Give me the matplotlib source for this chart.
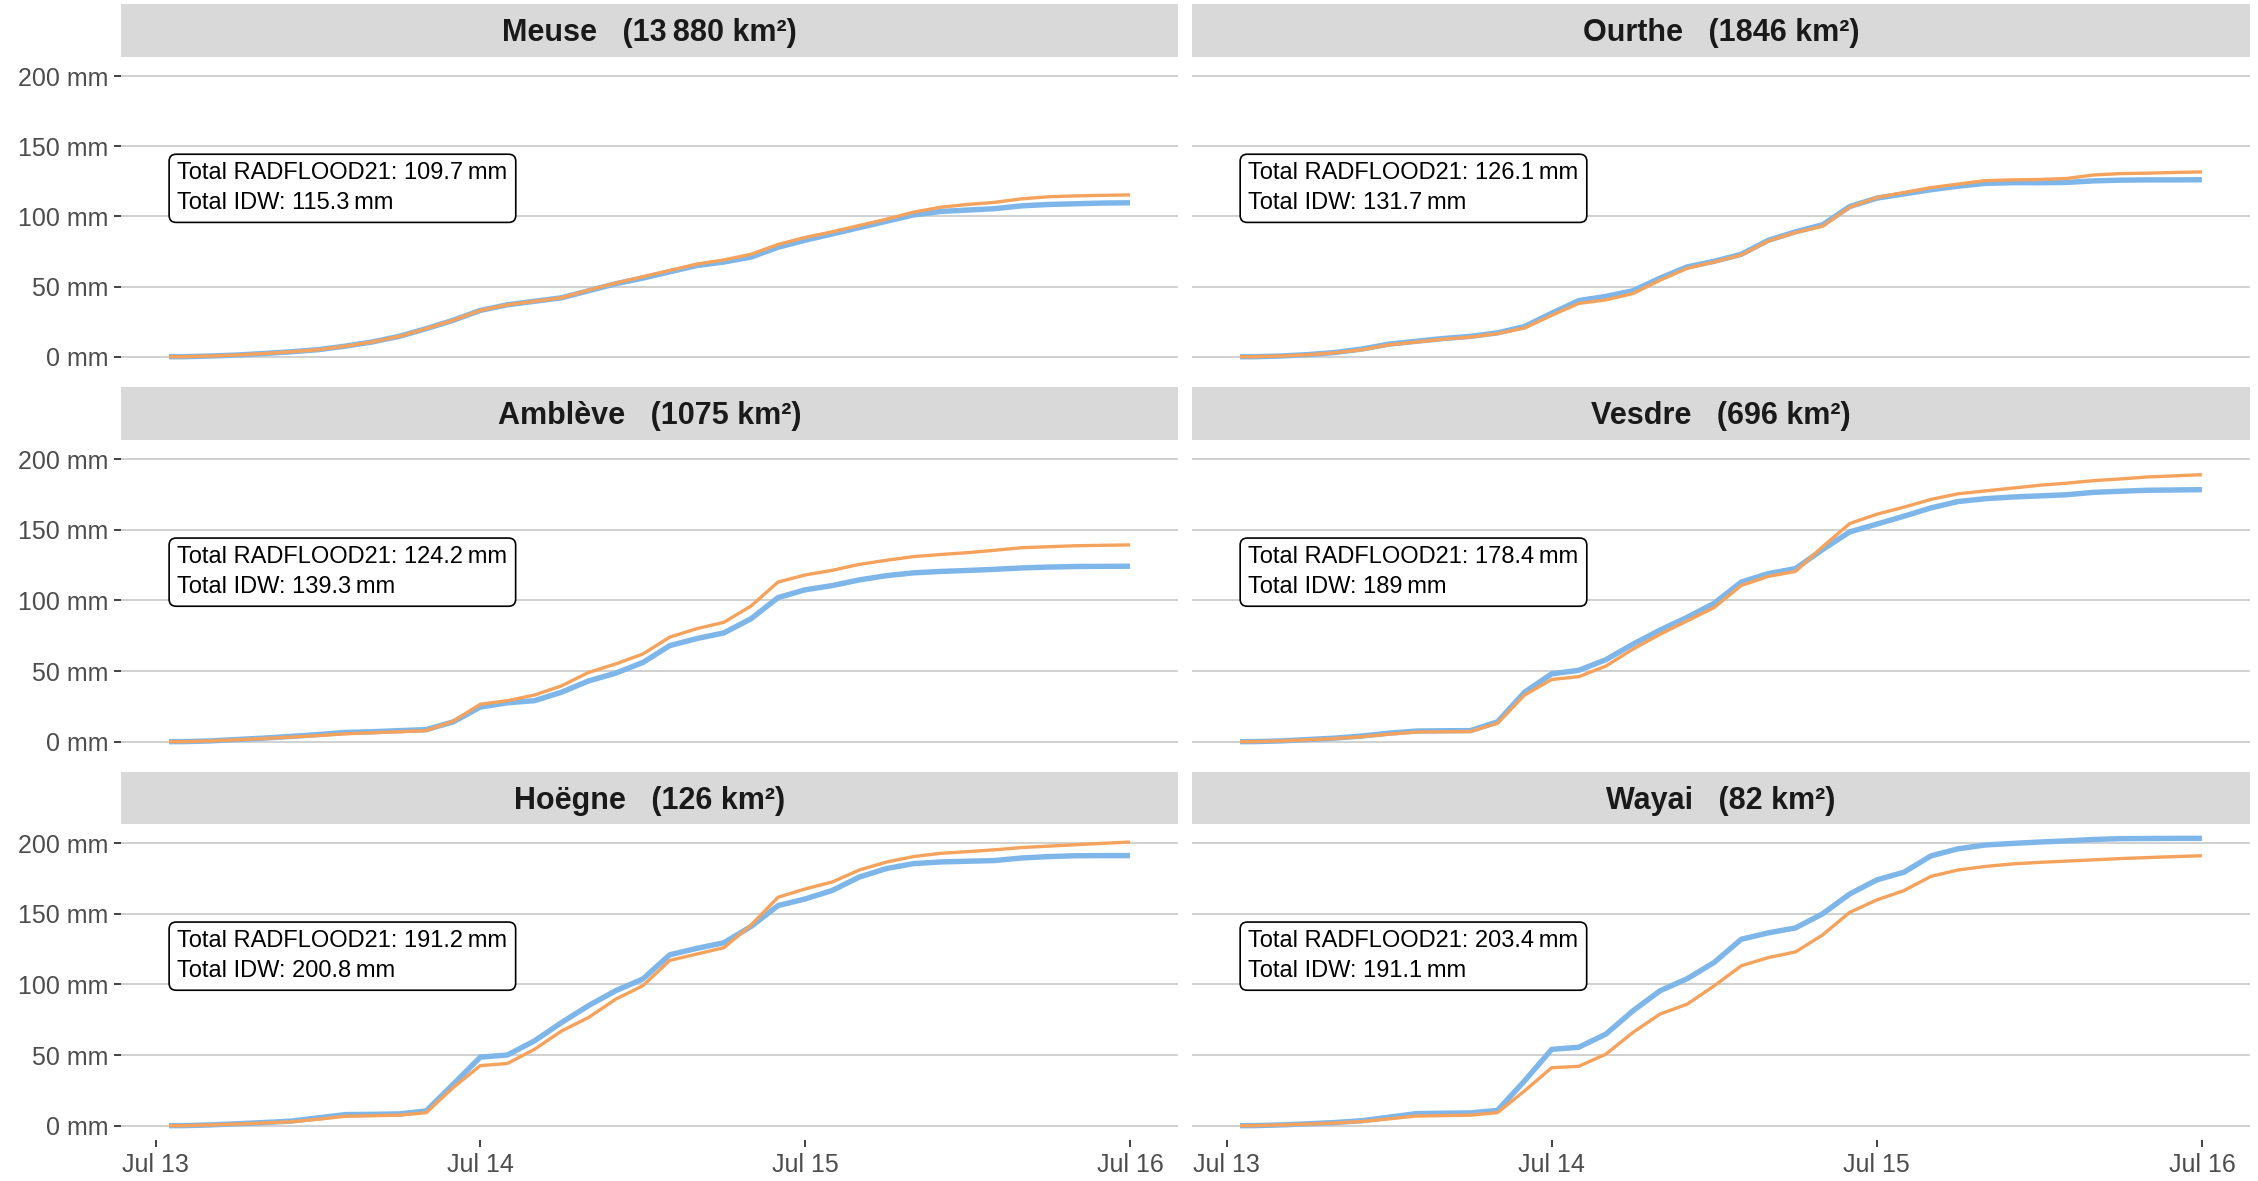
import matplotlib
matplotlib.use("Agg")
import matplotlib.pyplot as plt
import matplotlib.dates as mdates
import pandas as pd

plt.rcParams['font.family'] = ['Liberation Sans', 'DejaVu Sans']

START = pd.Timestamp("2021-07-13 00:00")

# hours after Jul 13 00:00
hours = [1, 2, 4, 6, 8, 10, 12, 14, 16, 18, 20, 22, 24, 26, 28, 30, 32, 34, 36,
         38, 40, 42, 44, 46, 48, 50, 52, 54, 56, 58, 60, 62, 64, 66, 68, 70, 72]

basins = ["Meuse", "Ourthe", "Amblève", "Vesdre", "Hoëgne", "Wayai"]
areas = ["13\u2009880", "1846", "1075", "696", "126", "82"]

total_radflood = [109.7, 126.1, 124.2, 178.4, 191.2, 203.4]
total_idw = [115.3, 131.7, 139.3, 189, 200.8, 191.1]

# cumulative rainfall (mm)
radflood_meuse = [0, 0, 0.5, 1.2, 2.3, 3.5, 5, 7.5, 10.5, 14.5, 20, 26, 33, 37, 39.5, 42, 47, 52, 56,
                  60.5, 65, 67.5, 71, 78, 83, 87.5, 92, 96.5, 101, 103.5, 104.5, 105.5, 107.5, 108.5, 109, 109.5, 109.7]
idw_meuse = [0, 0, 0.5, 1.2, 2.3, 3.5, 5, 7.5, 10.5, 14.5, 20, 26, 33, 37, 39.5, 42, 47.5, 52.5, 57,
             61.5, 66, 69, 73, 80, 85, 89, 93.5, 98, 103, 106.5, 108.5, 110, 112.5, 114, 114.6, 115, 115.3]

radflood_ourthe = [0, 0, 0.5, 1.5, 3, 5.5, 9, 11, 13, 14.5, 17, 21.5, 31, 40, 43, 47, 56, 64, 68,
                   73, 83, 89, 94, 107, 113, 116, 119, 121.5, 123.5, 124, 124, 124.2, 125.3, 125.8, 126, 126, 126.1]
idw_ourthe = [0, 0, 0.5, 1.4, 2.8, 5, 8.5, 10.5, 12.5, 14, 16.5, 20.5, 29.5, 38, 40.5, 45, 54.5, 63, 67.5,
              72.5, 82.5, 88.5, 93, 106.5, 113.5, 117, 120.5, 123, 125.5, 126, 126.3, 127, 129.5, 130.5, 130.8, 131.3, 131.7]

radflood_ambleve = [0, 0, 0.5, 1.5, 2.5, 3.7, 5, 6.5, 7, 7.8, 8.5, 14, 24.5, 27.5, 29, 35, 43, 48.5, 56,
                    68, 73, 77, 87, 102, 107.5, 110.5, 114.5, 117.5, 119.5, 120.5, 121.2, 122, 123, 123.6, 124, 124.1, 124.2]
idw_ambleve = [0, 0, 0.5, 1.3, 2.2, 3.2, 4.3, 5.5, 6.3, 7, 7.8, 14.5, 26.5, 29, 33, 39.5, 49, 55, 62,
               74, 80, 84.5, 96, 113, 118, 121.3, 125.5, 128.4, 131, 132.5, 133.8, 135.5, 137.3, 138, 138.7, 139, 139.3]

radflood_vesdre = [0, 0, 0.5, 1.5, 2.5, 4, 6, 7.5, 7.7, 7.8, 14, 35, 48, 50.5, 58, 69, 79, 88, 98,
                   113, 119, 122.5, 136, 148.5, 154, 159.6, 165.5, 170, 172, 173.2, 174, 174.8, 176.5, 177.3, 178, 178.2, 178.4]
idw_vesdre = [0, 0, 0.5, 1.3, 2.2, 3.5, 5.3, 6.8, 7, 7.2, 13, 33, 44, 46, 53.5, 65.5, 76, 85.5, 95,
              110.6, 117, 120.5, 138, 154.4, 161, 166, 171.5, 175.5, 177.5, 179.5, 181.5, 183, 184.8, 186, 187.4, 188.2, 189]

radflood_hoegne = [0, 0, 0.5, 1.3, 2.2, 3.2, 5.5, 7.8, 8, 8.3, 10.4, 29.3, 48.5, 50, 60, 73, 85, 95.5, 103.8,
                   121, 125.5, 129.5, 141, 155.8, 160.5, 166.5, 176, 182, 185.5, 186.7, 187.2, 187.7, 189.5, 190.5, 191.1, 191.2, 191.2]
idw_hoegne = [0, 0, 0.5, 1.1, 1.9, 2.7, 4.5, 6.6, 7, 7.4, 9.2, 27, 42.5, 44, 54, 67, 76.6, 89.5, 99,
              117, 121.5, 126, 142, 161.7, 167.6, 172.5, 181, 186.6, 190.5, 192.8, 194, 195.3, 196.9, 197.9, 198.9, 199.9, 200.8]

radflood_wayai = [0, 0, 0.5, 1.3, 2.2, 3.5, 6, 8.5, 8.8, 9, 10.8, 31.7, 54, 55.5, 64.8, 81.3, 95.5, 104, 115.6,
                  132, 136.5, 140, 150, 164, 174, 179.4, 191, 196, 198.7, 199.8, 200.8, 201.6, 202.6, 203.2, 203.3, 203.4, 203.4]
idw_wayai = [0, 0, 0.5, 1.1, 1.9, 2.9, 4.8, 6.8, 7.1, 7.4, 9.2, 24.6, 41, 42, 50.6, 66, 79, 86, 99,
             113.2, 119, 123, 135, 151, 159.8, 166.4, 176.5, 181, 183.5, 185.3, 186.4, 187.3, 188.2, 189.1, 189.8, 190.5, 191.1]

radflood = [radflood_meuse, radflood_ourthe, radflood_ambleve, radflood_vesdre, radflood_hoegne, radflood_wayai]
idw = [idw_meuse, idw_ourthe, idw_ambleve, idw_vesdre, idw_hoegne, idw_wayai]

BLUE = "#7FB6E9"
ORANGE = "#F5A25C"
W, H = 2258, 1181

times = [START + pd.Timedelta(hours=h) for h in hours]
tmin, tmax = times[0], times[-1]
tpad = (tmax - tmin) * 0.05
ymax = max(max(s) for s in radflood + idw)
ypad = ymax * 0.05

cols = [(121, 1178), (1192, 2250)]
rows = [(4, 57, 371), (387, 440, 756), (772, 824, 1140)]


def fmt(v):
	return "{:g}\u2009mm".format(v)


fig = plt.figure(figsize=(W / 100, H / 100), dpi=100)

for i, name in enumerate(basins):
	r, c = divmod(i, 2)
	x0, x1 = cols[c]
	s0, p0, p1 = rows[r]

	strip = fig.add_axes([x0 / W, 1 - p0 / H, (x1 - x0) / W, (p0 - s0) / H])
	strip.set_facecolor("#D9D9D9")
	strip.set_xticks([])
	strip.set_yticks([])
	for sp in strip.spines.values():
		sp.set_visible(False)
	strip.text(0.5, 0.45, "{}   ({} km²)".format(name, areas[i]), ha="center", va="center",
		fontsize=22, fontweight="bold", color="#1A1A1A", transform=strip.transAxes)

	ax = fig.add_axes([x0 / W, 1 - p1 / H, (x1 - x0) / W, (p1 - p0) / H])
	ax.plot(times, radflood[i], color=BLUE, lw=3.9, solid_capstyle="butt", zorder=3)
	ax.plot(times, idw[i], color=ORANGE, lw=2.4, solid_capstyle="butt", zorder=4)

	ax.set_xlim(tmin - tpad, tmax + tpad)
	ax.set_ylim(-ypad, ymax + ypad)
	ax.set_yticks([0, 50, 100, 150, 200])
	ax.grid(axis="y", color="#C8C8C8", lw=1.2)
	ax.set_axisbelow(True)
	for sp in ax.spines.values():
		sp.set_visible(False)

	ax.xaxis.set_major_locator(mdates.DayLocator())
	ax.xaxis.set_major_formatter(mdates.DateFormatter("%b %d"))
	ax.tick_params(axis="both", length=5, width=1.3, color="#333333",
		labelsize=18, labelcolor="#4D4D4D", pad=4)

	if c == 0:
		ax.set_yticklabels(["{} mm".format(v) for v in [0, 50, 100, 150, 200]])
	else:
		ax.tick_params(axis="y", length=0, labelleft=False)
	if r < 2:
		ax.tick_params(axis="x", length=0, labelbottom=False)

	label = "Total RADFLOOD21: {}\nTotal IDW: {}".format(fmt(total_radflood[i]), fmt(total_idw[i]))
	ax.annotate(label, xy=(tmin, 120), xytext=(6, 0), textcoords="offset points",
		ha="left", va="center", fontsize=17, color="black", linespacing=1.45, zorder=6,
		bbox=dict(boxstyle="round,pad=0.35,rounding_size=0.3", fc="white", ec="black", lw=1.2))

fig.savefig("out.png", dpi=100)
